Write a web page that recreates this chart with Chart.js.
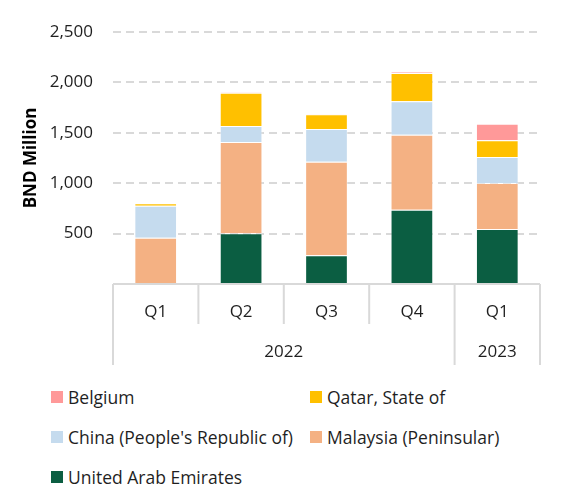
<!DOCTYPE html>
<html>
<head>
<meta charset="utf-8">
<script src="https://cdn.jsdelivr.net/npm/chart.js@4"></script>
<style>
body{margin:0;background:#fff;font-family:"Open Sans",sans-serif;}
#wrap{position:relative;width:563px;height:370px;}
#legend{position:absolute;left:51px;top:377px;display:grid;grid-template-columns:259px auto;grid-auto-rows:40px;}
.item{display:flex;align-items:center;font-size:17.5px;color:#1f1f1f;white-space:nowrap;}
.box{width:12px;height:12px;margin-right:5px;flex:none;}
</style>
</head>
<body>
<div id="wrap"><canvas id="c" width="563" height="370"></canvas></div>
<div id="legend"></div>
<script>
const quarters = ['Q1', 'Q2', 'Q3', 'Q4', 'Q1'];
const years = ['2022', '2022', '2022', '2022', '2023'];
const uae = [0, 503, 285, 737, 546];
const malaysia = [459, 906, 928, 744, 456];
const china = [317, 158, 325, 331, 258];
const qatar = [24, 331, 145, 281, 165];
const belgium = [2, 4, 6, 12, 165];

const lineCol = '#d9d9d9';
const txtCol = '#1f1f1f';

// draws the two level category axis (quarters / years)
const xAxisPlugin = {
  id: 'xAxisGroups',
  afterDraw(chart) {
    const ctx = chart.ctx;
    const xs = chart.scales.x;
    const top = xs.top;
    const n = quarters.length;
    const w = xs.getPixelForValue(1) - xs.getPixelForValue(0);
    ctx.save();
    ctx.strokeStyle = lineCol;
    ctx.lineWidth = 2;
    ctx.beginPath();
    ctx.moveTo(xs.left, top);
    ctx.lineTo(xs.right, top);
    for (let i = 0; i <= n; i++) {
      const x = xs.getPixelForValue(0) - w / 2 + i * w;
      const long = i === 0 || i === n || years[i] !== years[i - 1];
      ctx.moveTo(x, top);
      ctx.lineTo(x, top + (long ? 81 : 40));
    }
    ctx.stroke();
    ctx.fillStyle = txtCol;
    ctx.font = '17px "Open Sans"';
    ctx.textAlign = 'center';
    ctx.textBaseline = 'middle';
    quarters.forEach((q, i) => ctx.fillText(q, xs.getPixelForValue(i), top + 28));
    let start = 0;
    for (let i = 1; i <= n; i++) {
      if (i === n || years[i] !== years[start]) {
        const x = (xs.getPixelForValue(start) + xs.getPixelForValue(i - 1)) / 2;
        ctx.fillText(years[start], x, top + 68);
        start = i;
      }
    }
    ctx.restore();
  }
};

const sets = [
  {label: 'United Arab Emirates', data: uae, backgroundColor: '#0b5e42'},
  {label: 'Malaysia (Peninsular)', data: malaysia, backgroundColor: '#f4b183'},
  {label: "China (People's Republic of)", data: china, backgroundColor: '#c5dbee'},
  {label: 'Qatar, State of', data: qatar, backgroundColor: '#ffc000'},
  {label: 'Belgium', data: belgium, backgroundColor: '#ff9999'}
];
sets.forEach(s => { s.borderColor = 'rgba(255,255,255,0.4)'; s.borderWidth = 1; });

const chart = new Chart(document.getElementById('c'), {
  type: 'bar',
  data: {labels: quarters.map((q, i) => q + ' ' + years[i]), datasets: sets},
  options: {
    responsive: false,
    animation: false,
    layout: {padding: {top: 32, right: 23, bottom: 5, left: 0}},
    plugins: {legend: {display: false}, tooltip: {enabled: false}},
    datasets: {bar: {categoryPercentage: 1, barPercentage: 0.5}},
    scales: {
      x: {
        stacked: true,
        grid: {display: false},
        border: {display: false},
        ticks: {display: false},
        afterFit(s) { s.height = 81; }
      },
      y: {
        stacked: true,
        min: 0,
        max: 2500,
        afterFit(s) { s.width = 113; },
        ticks: {
          stepSize: 500,
          padding: 20,
          color: txtCol,
          font: {family: 'Open Sans', size: 17},
          callback: v => v === 0 ? '' : v.toLocaleString('en-US')
        },
        grid: {
          drawTicks: false,
          lineWidth: 2,
          color: c => c.tick && c.tick.value === 0 ? 'rgba(0,0,0,0)' : lineCol
        },
        border: {display: false, dash: [8, 5]},
        title: {
          display: true,
          text: 'BND Million',
          color: '#000',
          font: {family: 'Open Sans', size: 17, weight: 'bold'},
          padding: {top: 21, bottom: 0}
        }
      }
    }
  },
  plugins: [xAxisPlugin]
});

// legend in two columns, top of stack first
const legend = document.getElementById('legend');
sets.slice().reverse().forEach(s => {
  const d = document.createElement('div');
  d.className = 'item';
  d.innerHTML = '<span class="box" style="background:' + s.backgroundColor + '"></span><span></span>';
  d.lastChild.textContent = s.label;
  legend.appendChild(d);
});
</script>
</body>
</html>
